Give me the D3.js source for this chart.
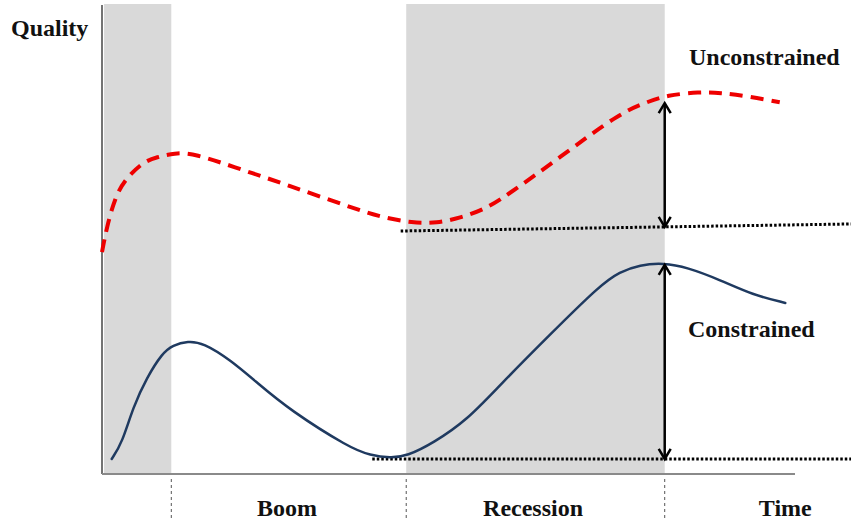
<!DOCTYPE html>
<html>
<head>
<meta charset="utf-8">
<script src="https://cdn.jsdelivr.net/npm/d3@7"></script>
<style>
  body { margin: 0; background: #fff; }
  text { font-family: "Liberation Serif", "Times New Roman", serif; font-weight: bold; fill: #111; }
</style>
</head>
<body>
<svg id="chart" width="851" height="523"></svg>
<script>
// time (0..10) vs quality (0..10)
var unconstrainedT = [0, 0.07, 0.19, 0.33, 0.59, 0.79, 1.05, 1.31, 2.03, 2.67, 3.58, 4.01, 4.49, 4.83, 5.17, 5.50, 5.79, 6.61, 7.47, 7.86, 8.15, 8.63, 8.92, 9.31, 9.78];
var unconstrainedQ = [4.72, 5.26, 5.89, 6.26, 6.64, 6.74, 6.83, 6.83, 6.47, 6.15, 5.68, 5.47, 5.34, 5.34, 5.45, 5.62, 5.87, 6.74, 7.68, 7.91, 8.06, 8.13, 8.11, 8.04, 7.91];

var constrainedT = [0.14, 0.29, 0.45, 0.65, 0.87, 1.02, 1.24, 1.46, 1.85, 2.24, 2.71, 3.58, 3.87, 4.16, 4.40, 4.78, 5.27, 5.74, 6.46, 7.19, 7.47, 7.76, 8.10, 8.44, 8.92, 9.39, 9.86];
var constrainedQ = [0.32, 0.66, 1.43, 2.06, 2.57, 2.74, 2.83, 2.79, 2.43, 1.94, 1.36, 0.55, 0.40, 0.34, 0.38, 0.66, 1.15, 1.89, 2.96, 4.02, 4.30, 4.45, 4.49, 4.40, 4.13, 3.81, 3.64];

// shaded periods and the boundaries of the phases
var periodStart = [0.03, 4.39];
var periodEnd = [1.0, 8.12];
var phaseBounds = [1.0, 4.39, 8.12];
var phaseLabels = ["Boom", "Recession", "Time"];
var phaseLabelT = [2.67, 6.22, 9.86];

// reference levels (dotted) and the gap arrows
var upperRefT = [4.31, 10.81], upperRefQ = [5.17, 5.32];
var lowerRefT = [3.90, 10.81], lowerRefQ = [0.32, 0.32];
var arrowT = 8.12;
var arrowFrom = [7.89, 4.45];
var arrowTo = [5.26, 0.32];

var svg = d3.select("#chart");
var x = d3.scaleLinear().domain([0, 10]).range([102, 795]);
var y = d3.scaleLinear().domain([0, 10]).range([474, 4]);

function pts(ts, qs) { return ts.map(function(t, i) { return [t, qs[i]]; }); }

// shading
for (var i = 0; i < periodStart.length; i++) {
  svg.append("rect")
    .attr("x", x(periodStart[i]))
    .attr("y", y(10))
    .attr("width", x(periodEnd[i]) - x(periodStart[i]))
    .attr("height", y(0) - y(10))
    .attr("fill", "#d9d9d9");
}

// axes
svg.append("line")
  .attr("x1", x(0)).attr("x2", x(0))
  .attr("y1", y(9.98)).attr("y2", y(0))
  .attr("stroke", "#444").attr("stroke-width", 1.5);
svg.append("line")
  .attr("x1", x(0)).attr("x2", x(10))
  .attr("y1", y(0)).attr("y2", y(0))
  .attr("stroke", "#8a8a8a").attr("stroke-width", 2);

// phase ticks below the axis
phaseBounds.forEach(function(t) {
  svg.append("line")
    .attr("x1", x(t)).attr("x2", x(t))
    .attr("y1", 479).attr("y2", 521)
    .attr("stroke", "#555").attr("stroke-width", 1)
    .attr("stroke-dasharray", "3,3");
});

var line = d3.line()
  .x(function(d) { return x(d[0]); })
  .y(function(d) { return y(d[1]); })
  .curve(d3.curveBasis);

// dotted reference levels
[[upperRefT, upperRefQ], [lowerRefT, lowerRefQ]].forEach(function(r) {
  svg.append("path")
    .attr("d", d3.line().x(function(d) { return x(d[0]); }).y(function(d) { return y(d[1]); })(pts(r[0], r[1])))
    .attr("fill", "none")
    .attr("stroke", "#000")
    .attr("stroke-width", 3)
    .attr("stroke-dasharray", "2.5,2");
});

// curves
svg.append("path")
  .attr("d", line(pts(unconstrainedT, unconstrainedQ)))
  .attr("fill", "none")
  .attr("stroke", "#ee0000")
  .attr("stroke-width", 4)
  .attr("stroke-dasharray", "13,8");

svg.append("path")
  .attr("d", line(pts(constrainedT, constrainedQ)))
  .attr("fill", "none")
  .attr("stroke", "#1f3a60")
  .attr("stroke-width", 2.5)
  .attr("stroke-linecap", "round");

// double-headed arrows
for (var k = 0; k < arrowFrom.length; k++) {
  var ax = x(arrowT), y1 = y(arrowFrom[k]), y2 = y(arrowTo[k]);
  svg.append("line")
    .attr("x1", ax).attr("x2", ax).attr("y1", y1 + 1).attr("y2", y2 - 1)
    .attr("stroke", "#000").attr("stroke-width", 2.5);
  [[y1, 1], [y2, -1]].forEach(function(h) {
    svg.append("path")
      .attr("d", "M" + (ax - 6) + "," + (h[0] + 10 * h[1]) + "L" + ax + "," + h[0] + "L" + (ax + 6) + "," + (h[0] + 10 * h[1]))
      .attr("fill", "none").attr("stroke", "#000").attr("stroke-width", 2.5)
      .attr("stroke-linejoin", "miter");
  });
}

// text
svg.append("text").attr("x", 11).attr("y", 36).attr("font-size", 24).text("Quality");
svg.append("text").attr("x", 689).attr("y", 65).attr("font-size", 24).text("Unconstrained");
svg.append("text").attr("x", 688).attr("y", 337).attr("font-size", 24).text("Constrained");
phaseLabels.forEach(function(l, i) {
  svg.append("text")
    .attr("x", x(phaseLabelT[i])).attr("y", 516)
    .attr("text-anchor", "middle").attr("font-size", 24)
    .text(l);
});
</script>
</body>
</html>
